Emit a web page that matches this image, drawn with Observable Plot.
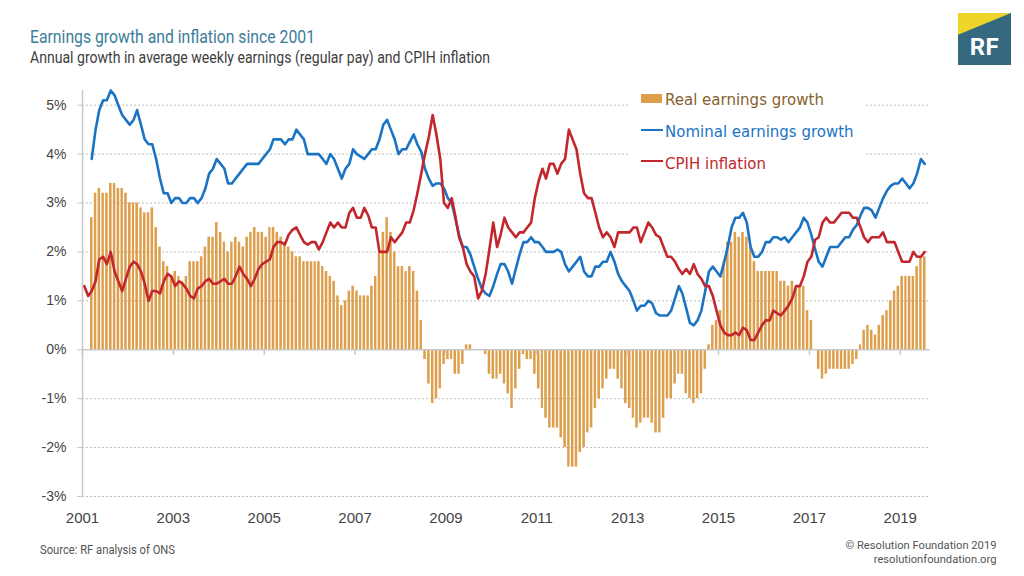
<!DOCTYPE html>
<html><head><meta charset="utf-8">
<script src="https://cdn.jsdelivr.net/npm/d3@7"></script>
<script src="https://cdn.jsdelivr.net/npm/@observablehq/plot@0.6"></script>
<style>
body{margin:0;background:#fff;}
#wrap{position:relative;width:1024px;height:576px;overflow:hidden;background:#fff;}
.t{position:absolute;white-space:nowrap;line-height:1;}
#title{left:30px;top:25.8px;font:400 18px Roboto,sans-serif;color:#3b7d98;}
#subtitle{left:30px;top:47.2px;font:400 17px Roboto,sans-serif;color:#404040;}
#logo{position:absolute;left:958px;top:13px;width:53px;height:52px;background:#35697f;overflow:hidden;}
#logo .y{position:absolute;left:0;top:0;width:100%;height:100%;background:#eed52c;clip-path:polygon(0 0,100% 0,0 42%);}
#logo .rf{position:absolute;left:0;width:53px;top:21.8px;text-align:center;font:700 24px Roboto,sans-serif;color:#fff;line-height:1;letter-spacing:0.5px;}
#chart{position:absolute;left:0;top:76px;}
#legend{position:absolute;left:628px;top:84px;width:236px;height:92px;background:#fff;}
.sw{position:absolute;}
.lt{position:absolute;white-space:nowrap;line-height:1;font:15px "DejaVu Sans",sans-serif;}
#source{left:39.5px;top:542.6px;font:400 12px Roboto,sans-serif;color:#555;}
#copy{right:28px;top:539px;font:400 11.8px Roboto,sans-serif;line-height:13.9px;color:#555;text-align:right;}
</style></head><body>
<div id="wrap">
  <div class="t" id="title">Earnings growth and inflation since 2001</div>
  <div class="t" id="subtitle">Annual growth in average weekly earnings (regular pay) and CPIH inflation</div>
  <div id="logo"><div class="y"></div><div class="rf">RF</div></div>
  <div id="chart"></div>
  <div id="legend"></div>
  <div class="t" id="source">Source: RF analysis of ONS</div>
  <div class="t" id="copy">© Resolution Foundation 2019<br>resolutionfoundation.org</div>
</div>
<script>
// Monthly data, January 2001 (index 0) to July 2019
const startYear = 2001;
const seriesNames = ["Real earnings growth", "Nominal earnings growth", "CPIH inflation"];
const seriesColors = ["#dd9f4b", "#1b74c3", "#c1272d"];
const legendTextColors = ["#86622f", "#1b74c3", "#c1272d"];

const cpih = [
  1.3, 1.1, 1.2, 1.4, 1.85, 1.9, 1.75, 2.0, 1.6, 1.4,
  1.2, 1.45, 1.7, 1.8, 1.75, 1.6, 1.35, 1.0, 1.2, 1.2,
  1.15, 1.4, 1.55, 1.5, 1.3, 1.4, 1.35, 1.25, 1.1, 1.05,
  1.25, 1.3, 1.4, 1.45, 1.35, 1.35, 1.4, 1.45, 1.35, 1.35,
  1.5, 1.7, 1.55, 1.45, 1.3, 1.45, 1.65, 1.75, 1.8, 1.85,
  2.1, 2.2, 2.2, 2.15, 2.35, 2.45, 2.5, 2.35, 2.2, 2.15,
  2.2, 2.2, 2.05, 2.2, 2.4, 2.6, 2.5, 2.6, 2.5, 2.5,
  2.8, 2.9, 2.7, 2.7, 2.9, 2.75, 2.5, 2.5, 2.0, 2.0,
  2.0, 2.3, 2.2, 2.3, 2.4, 2.6, 2.6, 2.85, 3.2, 3.6,
  4.0, 4.35, 4.8, 4.4, 3.9, 3.0, 2.9, 3.1, 2.75, 2.3,
  2.1, 1.75, 1.6, 1.5, 1.05, 1.2, 1.55, 2.05, 2.6, 2.1,
  2.35, 2.7, 2.5, 2.4, 2.3, 2.4, 2.4, 2.5, 2.6, 3.1,
  3.45, 3.7, 3.5, 3.8, 3.8, 3.6, 3.8, 3.9, 4.5, 4.3,
  4.1, 3.6, 3.2, 3.1, 3.1, 2.8, 2.5, 2.3, 2.4, 2.3,
  2.1, 2.4, 2.4, 2.4, 2.4, 2.5, 2.5, 2.2, 2.4, 2.6,
  2.5, 2.35, 2.3, 2.1, 1.9, 1.9, 1.8, 1.65, 1.55, 1.65,
  1.55, 1.75, 1.55, 1.45, 1.3, 1.3, 1.1, 0.8, 0.5, 0.35,
  0.3, 0.3, 0.35, 0.3, 0.45, 0.4, 0.2, 0.2, 0.35, 0.5,
  0.6, 0.6, 0.8, 0.75, 0.7, 0.8, 0.9, 1.05, 1.3, 1.3,
  1.5, 1.8, 1.9, 2.25, 2.3, 2.6, 2.7, 2.6, 2.6, 2.7,
  2.8, 2.8, 2.8, 2.7, 2.7, 2.5, 2.3, 2.2, 2.3, 2.3,
  2.3, 2.4, 2.2, 2.2, 2.2, 2.0, 1.8, 1.8, 1.8, 2.0,
  1.9, 1.9, 2.0
];

const nominal = [
  null, null,
  3.9, 4.5, 4.9, 5.1, 5.1, 5.3, 5.2, 5.0, 4.8, 4.7,
  4.6, 4.7, 4.9, 4.6, 4.3, 4.2, 4.2, 3.9, 3.5, 3.2,
  3.2, 3.0, 3.1, 3.1, 3.0, 3.0, 3.1, 3.1, 3.0, 3.1,
  3.3, 3.6, 3.7, 3.9, 3.8, 3.7, 3.4, 3.4, 3.5, 3.6,
  3.7, 3.8, 3.8, 3.8, 3.8, 3.9, 4.0, 4.1, 4.3, 4.3,
  4.3, 4.2, 4.3, 4.3, 4.5, 4.4, 4.3, 4.0, 4.0, 4.0,
  4.0, 3.9, 3.8, 4.0, 3.9, 3.7, 3.5, 3.7, 3.8, 4.1,
  4.0, 3.95, 3.9, 4.0, 4.1, 4.1, 4.3, 4.6, 4.7, 4.5,
  4.3, 4.0, 4.1, 4.1, 4.25, 4.4, 4.2, 4.05, 3.7, 3.5,
  3.35, 3.4, 3.4, 3.3, 3.1, 3.0, 2.7, 2.35, 2.1, 2.1,
  1.95, 1.7, 1.45, 1.25, 1.15, 1.1, 1.3, 1.55, 1.75, 1.75,
  1.6, 1.35, 1.65, 1.95, 2.2, 2.2, 2.3, 2.2, 2.2, 2.1,
  2.0, 2.0, 2.0, 2.05, 2.0, 1.75, 1.6, 1.7, 1.8, 1.9,
  1.6, 1.5, 1.5, 1.7, 1.7, 1.8, 1.8, 2.0, 1.8, 1.55,
  1.4, 1.3, 1.2, 1.0, 0.8, 0.9, 0.9, 1.0, 0.95, 0.75,
  0.7, 0.7, 0.7, 0.8, 1.05, 1.3, 1.15, 0.85, 0.55, 0.5,
  0.6, 0.8, 1.2, 1.6, 1.7, 1.6, 1.5, 1.8, 2.1, 2.5,
  2.7, 2.7, 2.8, 2.6, 2.1, 1.9, 1.9, 2.0, 2.2, 2.2,
  2.3, 2.3, 2.25, 2.3, 2.2, 2.3, 2.4, 2.5, 2.7, 2.6,
  2.35, 2.05, 1.8, 1.7, 1.9, 2.1, 2.1, 2.1, 2.2, 2.3,
  2.3, 2.45, 2.55, 2.75, 2.9, 2.9, 2.85, 2.7, 2.9, 3.1,
  3.25, 3.35, 3.4, 3.4, 3.5, 3.4, 3.3, 3.4, 3.6, 3.9, 3.8
];

const real = [
  null, null,
  2.7, 3.2, 3.3, 3.2, 3.2, 3.4, 3.4, 3.3, 3.3, 3.2,
  3.0, 3.0, 3.0, 2.9, 2.8, 2.8, 2.9, 2.5, 2.1, 1.8,
  1.7, 1.5, 1.6, 1.5, 1.4, 1.5, 1.8, 1.8, 1.8, 1.9,
  2.1, 2.3, 2.3, 2.6, 2.4, 2.2, 2.0, 2.2, 2.3, 2.2,
  2.1, 2.3, 2.4, 2.5, 2.4, 2.4, 2.3, 2.5, 2.5, 2.4,
  2.3, 2.2, 2.1, 2.0, 1.9, 1.9, 1.8, 1.8, 1.8, 1.8,
  1.8, 1.7, 1.6, 1.5, 1.4, 1.1, 0.9, 1.0, 1.2, 1.3,
  1.2, 1.1, 1.1, 1.1, 1.3, 1.5, 2.0, 2.4, 2.7, 2.4,
  2.0, 1.7, 1.7, 1.6, 1.7, 1.6, 1.2, 0.6, -0.2, -0.7,
  -1.1, -1.0, -0.8, -0.3, -0.2, -0.2, -0.5, -0.5, -0.3, 0.1,
  0.1, 0, 0, 0, -0.1, -0.5, -0.6, -0.6, -0.5, -0.7,
  -0.9, -1.2, -0.8, -0.4, -0.1, -0.2, -0.2, -0.5, -0.8, -1.2,
  -1.4, -1.6, -1.6, -1.6, -1.8, -2.0, -2.4, -2.4, -2.4, -2.1,
  -2.0, -1.7, -1.6, -1.2, -1.0, -0.8, -0.6, -0.4, -0.4, -0.6,
  -0.8, -1.1, -1.2, -1.4, -1.6, -1.5, -1.4, -1.4, -1.5, -1.7,
  -1.7, -1.4, -1.0, -1.0, -0.7, -0.5, -0.5, -0.9, -1.0, -1.1,
  -1.0, -0.9, -0.4, 0.1, 0.5, 0.6, 0.8, 1.8, 2.2, 2.2,
  2.4, 2.3, 2.4, 2.3, 2.1, 1.8, 1.6, 1.6, 1.6, 1.6,
  1.6, 1.6, 1.4, 1.4, 1.3, 1.4, 1.3, 1.3, 1.3, 0.8,
  0.6, 0, -0.4, -0.6, -0.5, -0.4, -0.4, -0.4, -0.4, -0.4,
  -0.4, -0.3, -0.2, 0.1, 0.4, 0.5, 0.4, 0.3, 0.5, 0.7,
  0.8, 1.0, 1.2, 1.3, 1.5, 1.5, 1.5, 1.5, 1.7, 1.9, 1.9
];

const yTicks = [-3, -2, -1, 0, 1, 2, 3, 4, 5];
const gridValues = [-3, -2, -1, 1, 2, 3, 4, 5];
const xTickYears = [2001, 2003, 2005, 2007, 2009, 2011, 2013, 2015, 2017, 2019];

const rows = cpih.map((c, i) => ({
  date: new Date(Date.UTC(startYear, i, 16)),
  d1: new Date(Date.UTC(startYear, i, 1)),
  d2: new Date(Date.UTC(startYear, i + 1, 1)),
  cpih: c,
  nominal: nominal[i],
  real: real[i]
}));
const xTickDates = xTickYears.map(y => new Date(Date.UTC(y, 0, 1)));
const xStart = new Date(Date.UTC(startYear, 0, 1));
const xEnd = new Date(Date.UTC(2019, 8, 1));

const plot = Plot.plot({
  width: 1024,
  height: 460,
  marginLeft: 82,
  marginRight: 94,
  marginTop: 14,
  marginBottom: 40,
  style: {fontFamily: "'Liberation Sans', Arial, sans-serif", background: "transparent"},
  x: {type: "utc", domain: [xStart, xEnd]},
  y: {domain: [-3, 5.3]},
  marks: [
    Plot.ruleY(gridValues, {stroke: "#bdbdbd", strokeWidth: 1, strokeDasharray: "2,2"}),
    Plot.rectY(rows.filter(d => d.real != null && d.real !== 0), {
      x1: "d1", x2: "d2", y1: 0, y2: "real",
      fill: seriesColors[0], insetLeft: 0.65, insetRight: 0.65
    }),
    Plot.ruleY([0], {stroke: "#c8c8c8", strokeWidth: 1.5}),
    Plot.ruleX(xTickDates, {y1: 0, y2: -0.12, stroke: "#c8c8c8", strokeWidth: 1.5}),
    Plot.ruleX([xStart], {stroke: "#c8c8c8", strokeWidth: 1.5}),
    Plot.lineY(rows.filter(d => d.nominal != null), {x: "date", y: "nominal", stroke: seriesColors[1], strokeWidth: 2.6, strokeLinejoin: "round"}),
    Plot.lineY(rows, {x: "date", y: "cpih", stroke: seriesColors[2], strokeWidth: 2.6, strokeLinejoin: "round"}),
    Plot.axisY({ticks: yTicks, tickFormat: d => `${d}%`, tickSize: 5, tickPadding: 11, fontSize: 14, stroke: "#c8c8c8", fill: "#444", label: null}),
    Plot.axisX({ticks: xTickDates, tickFormat: d => String(d.getUTCFullYear()), tickSize: 0, tickPadding: 16, fontSize: 15, fill: "#444", label: null})
  ]
});
document.getElementById("chart").appendChild(plot);

// Legend
const legend = document.getElementById("legend");
const legendTops = [90.6, 123, 154.6];
const legendMid = [98.6, 130, 161];
seriesNames.forEach((name, i) => {
  const sw = document.createElement("div");
  sw.className = "sw";
  sw.style.left = (641 - 628) + "px";
  sw.style.width = (i === 0 ? 21 : 22) + "px";
  const h = i === 0 ? 9 : 2.6;
  sw.style.height = h + "px";
  sw.style.top = (legendMid[i] - 84 - h / 2) + "px";
  sw.style.background = seriesColors[i];
  legend.appendChild(sw);
  const t = document.createElement("div");
  t.className = "lt";
  t.textContent = name;
  t.style.left = (665 - 628) + "px";
  t.style.top = (legendTops[i] - 84) + "px";
  t.style.color = legendTextColors[i];
  legend.appendChild(t);
});

function fit(id, w, origin) {
  const el = document.getElementById(id);
  el.style.transform = "none";
  const r = el.getBoundingClientRect().width;
  el.style.transformOrigin = origin;
  el.style.transform = `scaleX(${w / r})`;
}
function fitAll() {
  fit("title", 285, "left");
  fit("subtitle", 460, "left");
  fit("source", 135, "left");
  fit("copy", 151, "right");
}
fitAll();
if (document.fonts && document.fonts.ready) document.fonts.ready.then(fitAll);
</script>
</body></html>
